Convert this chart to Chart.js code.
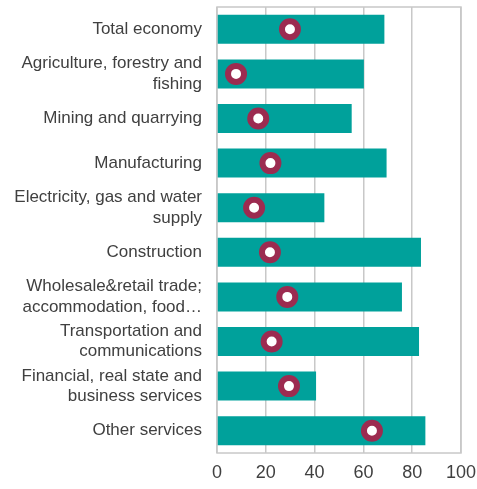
<!DOCTYPE html>
<html>
<head>
<meta charset="utf-8">
<script src="https://cdn.jsdelivr.net/npm/chart.js@4"></script>
<style>
  html, body { margin: 0; padding: 0; background: #fff; }
  #wrap { width: 477px; height: 489px; }
</style>
</head>
<body>
<div id="wrap"><canvas id="chart"></canvas></div>
<script>
const categories = [
    'Total economy',
    ['Agriculture, forestry and', 'fishing'],
    'Mining and quarrying',
    'Manufacturing',
    ['Electricity, gas and water', 'supply'],
    'Construction',
    ['Wholesale&retail trade;', 'accommodation, food\u2026'],
    ['Transportation and', 'communications'],
    ['Financial, real state and', 'business services'],
    'Other services'
];
const barValues = [68.6, 60.2, 55.2, 69.5, 44.0, 83.6, 75.8, 82.8, 40.6, 85.4];
const markerValues = [29.9, 7.8, 16.9, 21.9, 15.2, 21.7, 28.8, 22.4, 29.5, 63.5];
const xTicks = [0, 20, 40, 60, 80, 100];

// frame round the plot area
const frame = {
    id: 'frame',
    beforeDatasetsDraw(c) {
        const a = c.chartArea;
        const ctx = c.ctx;
        ctx.save();
        ctx.strokeStyle = '#c8c8c8';
        ctx.lineWidth = 1.5;
        ctx.strokeRect(a.left, a.top, a.right - a.left, a.bottom - a.top);
        ctx.restore();
    }
};

// drop the automatic label overhang padding, layout.padding decides instead
function noPad(axis) {
    axis.paddingTop = 0;
    axis.paddingBottom = 0;
    axis.paddingLeft = 0;
    axis.paddingRight = 0;
}

const ctx = document.getElementById('chart').getContext('2d');
new Chart(ctx, {
    data: {
        labels: categories,
        datasets: [
            {
                type: 'line',
                data: markerValues,
                showLine: false,
                pointRadius: 8,
                pointBorderWidth: 6,
                pointBackgroundColor: '#ffffff',
                pointBorderColor: '#9c2b50',
                order: 0
            },
            {
                type: 'bar',
                data: barValues,
                backgroundColor: '#00a19b',
                categoryPercentage: 1,
                barPercentage: 0.65,
                order: 1
            }
        ]
    },
    options: {
        indexAxis: 'y',
        responsive: true,
        maintainAspectRatio: false,
        animation: false,
        layout: { autoPadding: false, padding: { top: 7, right: 16, left: 2, bottom: 0 } },
        plugins: {
            legend: { display: false },
            tooltip: { enabled: false }
        },
        scales: {
            x: {
                min: 0,
                max: 100,
                afterBuildTicks: axis => { axis.ticks = xTicks.map(v => ({ value: v })); },
                afterFit: axis => { noPad(axis); axis.height = 36; },
                grid: { color: '#c8c8c8', lineWidth: 1.5, drawTicks: false },
                border: { display: false },
                ticks: {
                    color: '#404040',
                    padding: 9,
                    font: { family: 'Liberation Sans, Arial', size: 18 }
                }
            },
            y: {
                afterFit: axis => { noPad(axis); axis.width = 215; },
                grid: { display: false, drawTicks: false },
                border: { display: false },
                ticks: {
                    autoSkip: false,
                    color: '#404040',
                    padding: 15,
                    font: { family: 'Liberation Sans, Arial', size: 17, lineHeight: 1.2 }
                }
            }
        }
    },
    plugins: [frame]
});
</script>
</body>
</html>
